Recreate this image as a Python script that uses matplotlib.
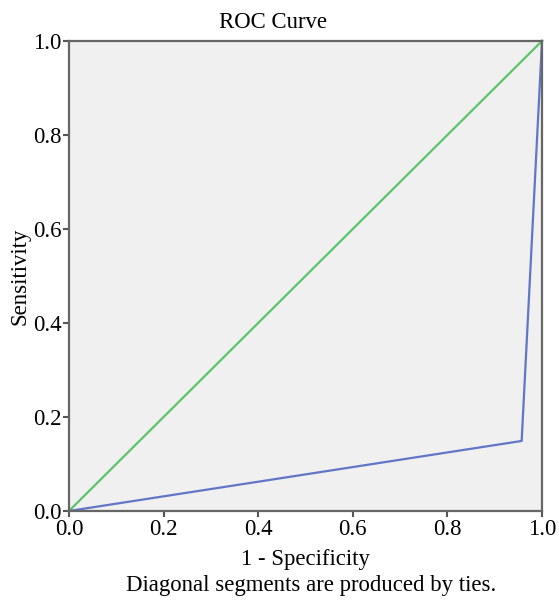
import numpy as np
import matplotlib
matplotlib.use('Agg')
import matplotlib.pyplot as plt

plt.rcParams['font.family'] = ['Liberation Serif', 'DejaVu Serif']

# Dữ liệu đường ROC
fpr = [0.0, 0.957, 1.0]
tpr = [0.0, 0.149, 1.0]
ref_x = [0.0, 1.0]
ref_y = [0.0, 1.0]
ticks = [0.0, 0.2, 0.4, 0.6, 0.8, 1.0]

fig = plt.figure(figsize=(5.59, 6.05), dpi=100)
ax = fig.add_axes([0.1234, 0.1554, 0.8462, 0.7769])
ax.set_facecolor('#f0f0f0')

ax.plot(ref_x, ref_y, color='#5cc46a', lw=1.6, clip_on=False)
ax.plot(fpr, tpr, color='#6276c8', lw=1.6, clip_on=False)

ax.set_xlim(0, 1)
ax.set_ylim(0, 1)
ax.set_xticks(ticks)
ax.set_yticks(ticks)
ax.set_xticklabels([f'{t:.1f}' for t in ticks])
ax.set_yticklabels([f'{t:.1f}' for t in ticks])
ax.tick_params(direction='out', length=4, width=1.5, color='#555555', labelsize=16.4, pad=1.5)

for s in ax.spines.values():
    s.set_color('#666666')
    s.set_linewidth(1.6)

# Nhãn trục
ax.set_xlabel('1 - Specificity', fontsize=16.4)
ax.xaxis.set_label_coords(0.5, (511 - 560) / 470)
ax.xaxis.label.set_va('center')
ax.set_ylabel('Sensitivity', fontsize=16.4)
ax.yaxis.set_label_coords((20 - 69) / 473, 0.5)
ax.yaxis.label.set_va('center')

fig.text(273 / 559, 1 - 23 / 605, 'ROC Curve', ha='center', va='center', fontsize=16.4)
fig.text(311 / 559, 1 - 585 / 605, 'Diagonal segments are produced by ties.',
         ha='center', va='center', fontsize=16.4)

fig.savefig('out.png', dpi=100)
